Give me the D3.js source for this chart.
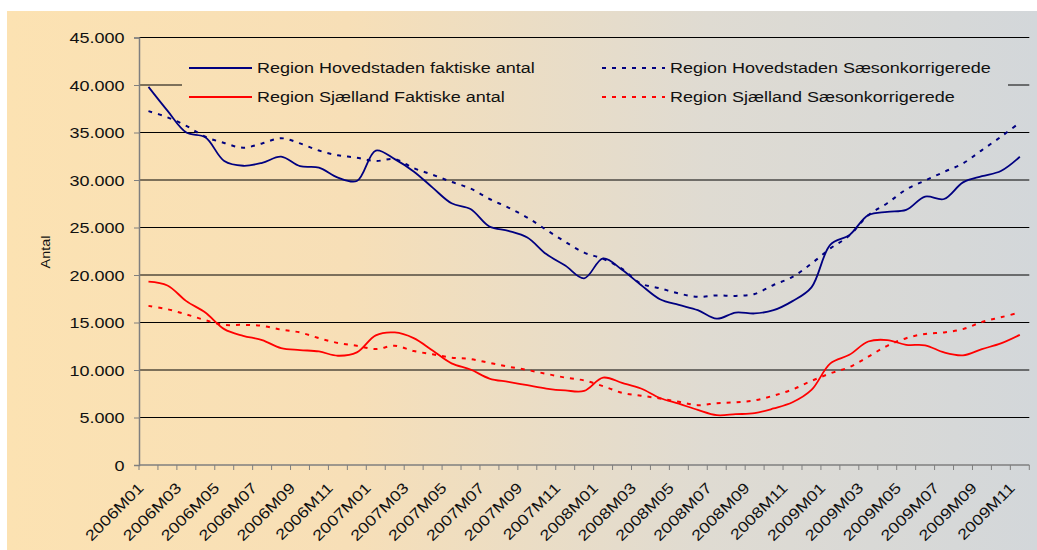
<!DOCTYPE html>
<html>
<head>
<meta charset="utf-8">
<script src="https://cdn.jsdelivr.net/npm/d3@7"></script>
<style>
  body { margin: 0; background: #fff; }
  text { font-family: "Liberation Sans", Arial, sans-serif; fill: #111; }
</style>
</head>
<body>
<div id="chart"></div>
<script>
// ---- data ----
const years = ['2006', '2007', '2008', '2009'];
const monthCount = 47; // 2006M01 .. 2009M11
const months = [];
years.forEach(yr => d3.range(1, 13).forEach(m => months.push(yr + 'M' + (m < 10 ? '0' + m : m))));
months.length = monthCount;

const hovedFaktisk = [39800, 37300, 35000, 34500, 32000, 31500, 31800, 32450, 31450, 31300,
  30250, 29900, 33100, 32200, 30900, 29200, 27550, 26950, 25100, 24650,
  23950, 22200, 21000, 19650, 21750, 20550, 18950, 17450, 16850, 16300,
  15400, 16050, 15950, 16300, 17250, 18700, 23200, 24200, 26300, 26650,
  26850, 28250, 28000, 29750, 30400, 30950, 32450];
const hovedSaeson = [37250, 36600, 35700, 34550, 33900, 33400, 33850, 34400, 33850, 33100,
  32600, 32350, 32000, 32200, 31250, 30550, 29800, 29100, 28000, 27100,
  26050, 24750, 23500, 22350, 21700, 20650, 19100, 18600, 18050, 17700,
  17850, 17800, 18000, 18950, 19800, 21200, 22800, 24150, 26300, 27550,
  29000, 29950, 30850, 31750, 33150, 34550, 36050];
const sjFaktisk = [19300, 18900, 17250, 16050, 14300, 13600, 13150, 12300, 12100, 11950,
  11500, 11850, 13650, 13950, 13350, 12050, 10700, 10050, 9100, 8750,
  8400, 8050, 7850, 7800, 9200, 8650, 8050, 7050, 6450, 5800,
  5250, 5350, 5450, 5950, 6600, 7900, 10700, 11600, 13000, 13150,
  12650, 12600, 11850, 11550, 12200, 12800, 13700];
const sjSaeson = [16750, 16400, 15850, 15250, 14750, 14750, 14650, 14250, 13950, 13350,
  12850, 12550, 12200, 12550, 12000, 11650, 11300, 11150, 10750, 10350,
  10000, 9600, 9200, 8900, 8300, 7600, 7300, 7000, 6650, 6300,
  6500, 6600, 6800, 7300, 7950, 8850, 9650, 10300, 11400, 12550,
  13350, 13800, 13950, 14300, 15050, 15550, 16050];
const yTicks = [0, 5000, 10000, 15000, 20000, 25000, 30000, 35000, 40000, 45000];

const series = [
  { name: 'Region Hovedstaden faktiske antal', values: hovedFaktisk, color: '#000080', dash: null, width: 1.8 },
  { name: 'Region Sjælland Faktiske antal', values: sjFaktisk, color: '#FF0000', dash: null, width: 1.8 },
  { name: 'Region Hovedstaden Sæsonkorrigerede', values: hovedSaeson, color: '#000080', dash: '4,6', width: 2 },
  { name: 'Region Sjælland Sæsonkorrigerede', values: sjSaeson, color: '#FF0000', dash: '4,6', width: 2 }
];

// ---- layout ----
const W = 1037, H = 550;
const plot = { left: 139, right: 1029.3, top: 37.5, bottom: 465 };
const stretch = 'scale(1.2,1)';

const svg = d3.select('#chart').append('svg')
  .attr('width', W)
  .attr('height', H);

const grad = svg.append('defs').append('linearGradient')
  .attr('id', 'bg')
  .attr('gradientUnits', 'userSpaceOnUse')
  .attr('x1', 7).attr('y1', 0).attr('x2', W).attr('y2', 0);
[['0%', '#FCE2B2'], ['33%', '#F7DFB7'], ['68%', '#DFDBD2'], ['100%', '#D3D7DA']].forEach(s => {
  grad.append('stop').attr('offset', s[0]).attr('stop-color', s[1]);
});

svg.append('rect')
  .attr('x', 7).attr('y', 11)
  .attr('width', W - 7).attr('height', H - 11)
  .attr('fill', 'url(#bg)');

const x = d3.scaleBand()
  .domain(months)
  .range([plot.left, plot.right]);

const y = d3.scaleLinear()
  .domain([0, 45000])
  .range([plot.bottom, plot.top]);

// grid lines
svg.append('g')
  .selectAll('line')
  .data(yTicks.filter(d => d > 0))
  .enter()
  .append('line')
  .attr('x1', plot.left).attr('x2', plot.right)
  .attr('y1', d => y(d)).attr('y2', d => y(d))
  .style('stroke', '#000')
  .style('stroke-width', 1);

// legend box sits over the grid
const legend = svg.append('g');
legend.append('rect')
  .attr('x', 182).attr('y', 42)
  .attr('width', 826).attr('height', 78)
  .attr('fill', 'url(#bg)');

const legendPos = [[189, 68], [189, 97], [602, 68], [602, 97]];
series.forEach((s, i) => {
  const p = legendPos[i];
  legend.append('line')
    .attr('x1', p[0]).attr('x2', p[0] + 63)
    .attr('y1', p[1]).attr('y2', p[1])
    .style('stroke', s.color)
    .style('stroke-width', s.width)
    .style('stroke-dasharray', s.dash);
  legend.append('text')
    .attr('transform', `translate(${p[0] + 68},${p[1] + 5}) ${stretch}`)
    .style('font-size', '15px')
    .text(s.name);
});

// y axis
const yAxis = svg.append('g')
  .attr('transform', `translate(${plot.left},0)`)
  .call(d3.axisLeft(y)
    .tickValues(yTicks)
    .tickSize(5)
    .tickPadding(7)
    .tickFormat(d => d3.format(',')(d).replace(/,/g, '.')));
yAxis.select('.domain').style('stroke', '#7f7f7f').style('stroke-width', 1.5);
yAxis.selectAll('.tick line').style('stroke', '#7f7f7f');
yAxis.selectAll('.tick text')
  .attr('transform', stretch)
  .attr('dy', '0.36em')
  .style('font-size', '15px')
  .style('font-family', '"Liberation Sans", Arial, sans-serif')
  .style('fill', '#111');

// x axis: ticks between categories, labels on every second month
const xAxis = svg.append('g');
xAxis.append('line')
  .attr('x1', plot.left).attr('x2', plot.right)
  .attr('y1', plot.bottom).attr('y2', plot.bottom)
  .style('stroke', '#7f7f7f')
  .style('stroke-width', 1.5);
xAxis.selectAll('.xtick')
  .data(d3.range(months.length + 1))
  .enter()
  .append('line')
  .attr('class', 'xtick')
  .attr('x1', i => plot.left + i * x.bandwidth())
  .attr('x2', i => plot.left + i * x.bandwidth())
  .attr('y1', plot.bottom).attr('y2', plot.bottom + 5)
  .style('stroke', '#7f7f7f');
xAxis.selectAll('.xlabel')
  .data(months.filter((m, i) => i % 2 === 0))
  .enter()
  .append('text')
  .attr('class', 'xlabel')
  .attr('text-anchor', 'end')
  .attr('transform', m => `translate(${x(m) + x.bandwidth() / 2 - 4},${plot.bottom + 24}) rotate(-45) ${stretch}`)
  .style('font-size', '15px')
  .text(m => m);

svg.append('text')
  .attr('text-anchor', 'middle')
  .attr('transform', `translate(50,252) rotate(-90) ${stretch}`)
  .style('font-size', '12px')
  .text('Antal');

// series
const line = d3.line()
  .x((d, i) => x(months[i]) + x.bandwidth() / 2)
  .y(d => y(d))
  .curve(d3.curveCatmullRom.alpha(0.5));

series.forEach(s => {
  svg.append('path')
    .datum(s.values)
    .attr('d', line)
    .style('fill', 'none')
    .style('stroke', s.color)
    .style('stroke-width', s.width)
    .style('stroke-dasharray', s.dash);
});
</script>
</body>
</html>
